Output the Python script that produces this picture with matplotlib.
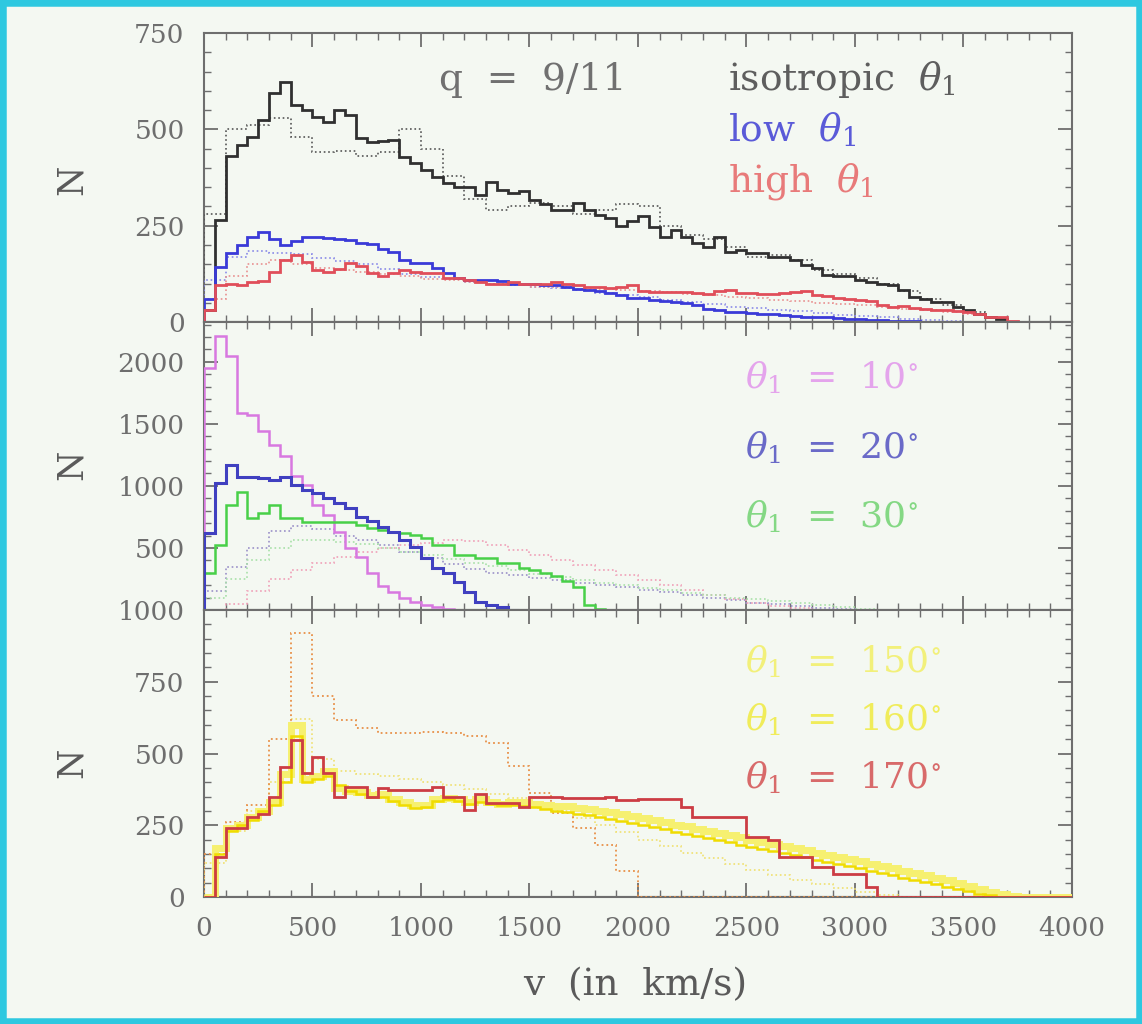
import numpy as np
import matplotlib
matplotlib.use("Agg")
import matplotlib.pyplot as plt
from matplotlib.patches import Rectangle
from matplotlib.ticker import MultipleLocator

plt.rcParams['font.family'] = ['DejaVu Serif']
plt.rcParams['mathtext.fontset'] = 'dejavuserif'

# ---- data: histogram counts, solid curves use 50 km/s bins, dotted 100 km/s ----
BIN_SOLID = 50
BIN_DOT = 100

# panel 1 : q = 9/11
iso_solid = [30, 265, 430, 459, 481, 524, 594, 624, 563, 550,
             533, 520, 550, 537, 477, 468, 470, 473, 429, 412,
             394, 377, 360, 351, 351, 330, 364, 343, 334, 339,
             317, 305, 291, 291, 308, 290, 278, 269, 250, 261,
             274, 247, 221, 239, 221, 204, 196, 221, 183, 187,
             178, 178, 170, 170, 160, 148, 139, 122, 120, 120,
             110, 105, 100, 96, 83, 66, 60, 53, 53, 40,
             30, 22, 12, 8, 0]
low_solid = [60, 144, 178, 200, 221, 234, 215, 200, 210, 221,
             221, 218, 215, 213, 206, 203, 190, 182, 160, 152,
             152, 140, 126, 115, 110, 110, 109, 107, 100, 100,
             98, 96, 95, 90, 85, 82, 80, 75, 70, 62,
             62, 58, 55, 52, 50, 45, 35, 30, 25, 25,
             23, 22, 20, 18, 15, 14, 12, 12, 10, 9,
             7, 6, 5, 4, 3, 2, 1, 0]
high_solid = [30, 95, 100, 95, 105, 107, 131, 160, 174, 156,
              135, 130, 138, 152, 145, 126, 120, 126, 135, 130,
              126, 126, 113, 113, 108, 105, 100, 100, 105, 100,
              100, 98, 104, 98, 95, 92, 92, 88, 90, 95,
              80, 79, 78, 79, 78, 76, 74, 80, 82, 75,
              75, 74, 73, 75, 78, 80, 70, 68, 62, 60,
              58, 55, 45, 40, 42, 36, 33, 32, 31, 28,
              27, 20, 14, 12, 4, 0]
iso_dot = [280, 500, 510, 530, 480, 440, 445, 430, 440, 500,
           450, 380, 320, 290, 300, 310, 300, 280, 290, 305,
           300, 250, 225, 215, 195, 170, 175, 160, 135, 125,
           115, 100, 80, 60, 45, 25, 10, 0]
low_dot = [110, 170, 185, 180, 176, 165, 158, 150, 138, 125,
           118, 111, 104, 100, 96, 91, 88, 82, 75, 70,
           65, 57, 52, 47, 40, 36, 31, 28, 24, 19,
           16, 12, 8, 5, 3, 0]
high_dot = [60, 120, 150, 160, 150, 141, 135, 129, 125, 120,
            112, 108, 103, 100, 96, 92, 90, 87, 85, 82,
            80, 77, 74, 71, 66, 62, 58, 55, 50, 46,
            45, 40, 35, 30, 25, 20, 10, 0]

# panel 2 : theta_1 = 10, 20, 30 deg
t10_solid = [1950, 2204, 2050, 1586, 1575, 1440, 1330, 1240, 1080, 1008,
             847, 766, 632, 500, 430, 300, 190, 148, 100, 67,
             40, 27, 10, 0]
t20_solid = [618, 1020, 1169, 1075, 1075, 1062, 1049, 1075, 1008, 968,
             941, 901, 860, 820, 753, 720, 672, 632, 565, 511,
             417, 336, 300, 228, 148, 67, 40, 27, 0]
t30_solid = [296, 524, 847, 954, 740, 780, 847, 740, 740, 712,
             712, 712, 705, 712, 685, 660, 645, 625, 618, 605,
             578, 524, 524, 443, 443, 417, 417, 379, 379, 336,
             320, 300, 270, 230, 186, 40, 10, 0]
t10_dot = [150, 350, 500, 640, 680, 650, 600, 560, 520, 470,
           420, 372, 330, 300, 281, 260, 238, 220, 200, 182,
           160, 141, 120, 100, 80, 60, 45, 30, 15, 5, 0]
t20_dot = [0, 50, 150, 250, 320, 380, 430, 470, 500, 520,
           540, 560, 555, 520, 480, 440, 400, 360, 320, 280,
           240, 200, 160, 120, 90, 60, 35, 15, 0]
t30_dot = [100, 250, 400, 500, 560, 560, 550, 530, 500, 470,
           440, 410, 380, 352, 320, 290, 265, 240, 221, 200,
           180, 161, 140, 120, 100, 85, 70, 55, 40, 25,
           12, 0]

# panel 3 : theta_1 = 150, 160, 170 deg
t150_solid = [0, 150, 230, 250, 270, 300, 320, 400, 560, 400,
              410, 420, 390, 370, 360, 350, 350, 335, 320, 310,
              315, 335, 340, 335, 325, 330, 325, 320, 320, 318,
              312, 305, 300, 295, 290, 285, 278, 272, 265, 258,
              250, 244, 236, 228, 220, 212, 205, 198, 190, 182,
              175, 168, 160, 152, 145, 138, 130, 122, 115, 108,
              100, 92, 84, 76, 68, 60, 52, 44, 36, 28,
              20, 12, 6, 0, 0, 0, 0, 0, 0, 0]
t160_solid = [0, 170, 240, 250, 280, 300, 330, 430, 600, 410,
              420, 440, 380, 370, 365, 355, 360, 340, 330, 322,
              322, 340, 345, 340, 330, 340, 330, 325, 330, 330,
              325, 322, 318, 316, 310, 305, 300, 296, 288, 281,
              275, 268, 262, 252, 246, 238, 230, 223, 215, 208,
              200, 193, 185, 177, 170, 163, 155, 147, 140, 133,
              124, 116, 108, 100, 92, 84, 76, 68, 58, 48,
              38, 28, 18, 10, 5, 0, 0, 0, 0, 0]
t170_solid = [0, 140, 239, 239, 279, 290, 349, 454, 547, 431,
              489, 431, 349, 384, 384, 349, 380, 372, 372, 372,
              372, 384, 349, 349, 303, 360, 326, 326, 326, 315,
              349, 349, 349, 345, 345, 345, 345, 349, 337, 337,
              340, 340, 340, 340, 315, 279, 279, 279, 279, 279,
              210, 210, 200, 140, 140, 140, 105, 105, 81, 81,
              81, 35, 0, 0, 0, 0, 0, 0, 0, 0,
              0, 0, 0, 0, 0, 0, 0, 0, 0, 0]
t170_dot = [150, 260, 320, 550, 920, 700, 617, 590, 570, 570,
            575, 570, 560, 536, 455, 362, 292, 240, 180, 90,
            0, 0, 0, 0, 0, 0, 0, 0, 0, 0,
            0, 0, 0, 0, 0, 0, 0, 0, 0, 0]
t150_dot = [120, 230, 300, 400, 620, 480, 440, 430, 420, 410,
            400, 390, 375, 360, 345, 325, 300, 275, 250, 225,
            200, 178, 155, 135, 115, 95, 78, 60, 45, 30,
            18, 8, 0]


def edges(vals, width):
    return np.arange(len(vals) + 1) * width


def hist(ax, vals, width, color, lw=2.0, ls='-', z=3):
    ax.stairs(vals, edges(vals, width), color=color, lw=lw, linestyle=ls, zorder=z)


bg = '#f4f8f2'
grey = '#6e6e6e'
fig = plt.figure(figsize=(11.42, 10.24), dpi=100, facecolor=bg)

L, W = 0.1786, 0.7601
ax1 = fig.add_axes([L, 0.6855, W, 0.2823])
ax2 = fig.add_axes([L, 0.4043, W, 0.2812])
ax3 = fig.add_axes([L, 0.1240, W, 0.2803])

# panel 1
hist(ax1, iso_dot, BIN_DOT, '#555555', lw=1.2, ls=':')
hist(ax1, low_dot, BIN_DOT, '#8a8ae8', lw=1.2, ls=':')
hist(ax1, high_dot, BIN_DOT, '#e89090', lw=1.2, ls=':')
hist(ax1, iso_solid, BIN_SOLID, '#303030', lw=2.0)
hist(ax1, low_solid, BIN_SOLID, '#3a3ad8', lw=2.0)
hist(ax1, high_solid, BIN_SOLID, '#e04e5a', lw=2.0)

# panel 2
hist(ax2, t10_dot, BIN_DOT, '#9a90c8', lw=1.2, ls=':')
hist(ax2, t20_dot, BIN_DOT, '#f0a0b8', lw=1.2, ls=':')
hist(ax2, t30_dot, BIN_DOT, '#a8e0a8', lw=1.2, ls=':')
hist(ax2, t10_solid, BIN_SOLID, '#d878e0', lw=1.8)
hist(ax2, t30_solid, BIN_SOLID, '#48d048', lw=1.8)
hist(ax2, t20_solid, BIN_SOLID, '#4040c0', lw=2.2)

# panel 3
hist(ax3, t150_dot, BIN_DOT, '#f0e070', lw=1.2, ls=':')
hist(ax3, t170_dot, BIN_DOT, '#e89048', lw=1.3, ls=':')
hist(ax3, t160_solid, BIN_SOLID, '#f6f070', lw=5.0)
hist(ax3, t150_solid, BIN_SOLID, '#f0dc00', lw=1.8)
hist(ax3, t170_solid, BIN_SOLID, '#cc3c44', lw=2.0)

ylims = [(0, 750), (0, 2320), (0, 1000)]
yticks = [[0, 250, 500, 750], [0, 500, 1000, 1500, 2000], [0, 250, 500, 750, 1000]]
ylabels = [['0', '250', '500', '750'], ['', '500', '1000', '1500', '2000'],
           ['0', '250', '500', '750', '1000']]
yminor = [50, 100, 50]

for i, ax in enumerate([ax1, ax2, ax3]):
    ax.set_facecolor(bg)
    ax.set_xlim(0, 4000)
    ax.set_ylim(*ylims[i])
    ax.axhline(0, color='#1e1e1e', lw=2.2, zorder=1)
    ax.set_yticks(yticks[i])
    ax.set_yticklabels(ylabels[i])
    ax.yaxis.set_minor_locator(MultipleLocator(yminor[i]))
    ax.xaxis.set_major_locator(MultipleLocator(500))
    ax.xaxis.set_minor_locator(MultipleLocator(100))
    ax.tick_params(which='both', direction='in', top=True, right=True,
                   color=grey, labelcolor=grey, labelsize=19)
    ax.tick_params(which='major', length=10, width=1.3)
    ax.tick_params(which='minor', length=5, width=1.0)
    ax.tick_params(axis='y', pad=14)
    ax.tick_params(axis='x', pad=14)
    for s in ax.spines.values():
        s.set_color(grey)
        s.set_linewidth(1.5)
    if i < 2:
        ax.tick_params(axis='x', labelbottom=False)

ax3.set_xticks(np.arange(0, 4001, 500))
ax3.set_xticklabels([str(v) for v in range(0, 4001, 500)])

# labels
fig.text(635 / 1142, 1 - 985 / 1024, 'v  (in  km/s)', fontsize=27, color='#5a5a5a',
         ha='center', va='center')
for yc in (180, 465, 763):
    fig.text(72 / 1142, 1 - yc / 1024, 'N', fontsize=25, color='#5a5a5a',
             rotation=90, ha='center', va='center')


def ftext(x, y, s, c, fs=27, ha='left'):
    fig.text(x / 1142, 1 - y / 1024, s, fontsize=fs, color=c, ha=ha, va='center')


ftext(533, 80, 'q  =  9/11', '#707070', ha='center')
ftext(728, 80, r'isotropic  $\theta_1$', '#5e5e5e')
ftext(728, 130, r'low  $\theta_1$', '#5a5ad8')
ftext(728, 182, r'high  $\theta_1$', '#e87a7a')

ftext(745, 378, r'$\theta_1$  =  10$^{\circ}$', '#e4a4ec', fs=26)
ftext(745, 448, r'$\theta_1$  =  20$^{\circ}$', '#6a6ac8', fs=26)
ftext(745, 517, r'$\theta_1$  =  30$^{\circ}$', '#84d884', fs=26)

ftext(745, 662, r'$\theta_1$  =  150$^{\circ}$', '#f2f07a', fs=26)
ftext(745, 720, r'$\theta_1$  =  160$^{\circ}$', '#f0ec5a', fs=26)
ftext(745, 778, r'$\theta_1$  =  170$^{\circ}$', '#d86a6a', fs=26)

# cyan frame of the original slide
fig.patches.append(Rectangle((0, 0), 1, 1, transform=fig.transFigure, fill=False,
                             edgecolor='#2ec8e0', lw=9))

fig.savefig('out.png', dpi=100, facecolor=bg)
